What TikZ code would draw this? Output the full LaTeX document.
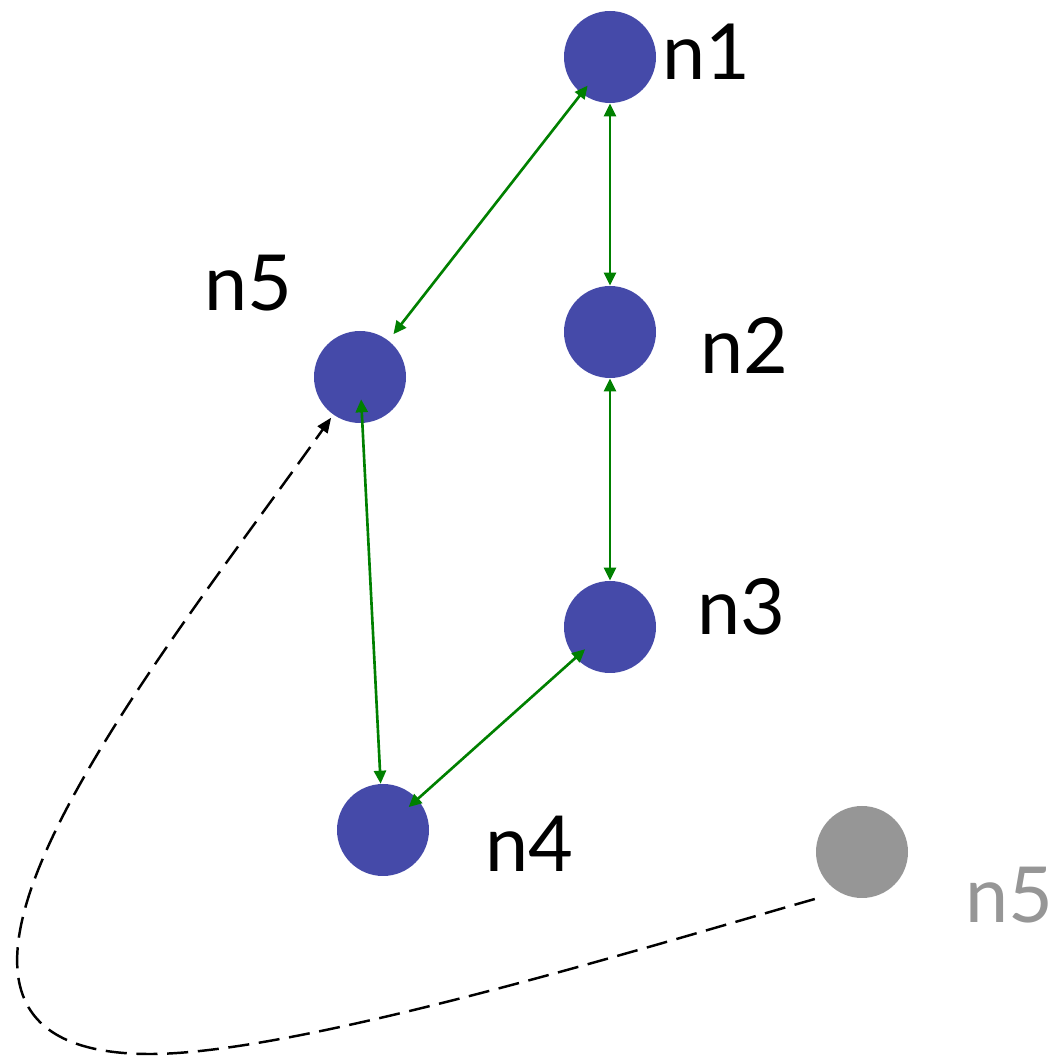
\documentclass[tikz,border=0pt]{standalone}
\usepackage{fontspec}
\setmainfont{Lato}
\usetikzlibrary{arrows.meta}
\definecolor{nodeblue}{RGB}{69,74,169}
\definecolor{ghostgray}{RGB}{150,150,150}
\definecolor{linkgreen}{RGB}{0,128,0}

\begin{document}
\begin{tikzpicture}[
  site/.style={circle,fill=nodeblue,minimum size=1.84cm,inner sep=0pt},
  lbl/.style={anchor=west,inner sep=0pt,font=\fontsize{44}{50}\selectfont},
  link/.style={linkgreen,line width=1.5pt,>={Triangle[length=0.26cm,width=0.24cm]},<->},
  rejoin/.style={black,line width=1.4pt,dash pattern=on 12pt off 5.5pt,
    -{Triangle[length=0.3cm,width=0.24cm]}}
]
\useasboundingbox (0,0) rectangle (21.1,21.12);

% the ring
\node[site] (n1) at (12.2,19.98) {};
\node[site] (n2) at (12.2,14.48) {};
\node[site] (n3) at (12.2,8.58) {};
\node[site] (n4) at (7.66,4.52) {};
\node[site] (n5) at (7.2,13.58) {};
\node[site,fill=ghostgray] (g5) at (17.24,4.08) {};

\node[lbl] (l1) at (13.24,20.08) {n1};
\node[lbl] (l2) at (14.0,14.22) {n2};
\node[lbl] (l3) at (13.94,8.98) {n3};
\node[lbl] (l4) at (9.7,4.24) {n4};
\node[lbl] (l5) at (4.08,15.46) {n5};
\node[lbl,text=ghostgray] (lg) at (19.3,3.22) {n5};

% links
\draw[link,shorten <=-0.2cm,shorten >=0.16cm] (n1) -- (n5);
\draw[link] (n1) -- (n2);
\draw[link] (n2) -- (n3);
\draw[link,shorten <=-0.48cm] (n5) -- (n4);
\draw[link,shorten <=-0.26cm,shorten >=-0.24cm] (n3) -- (n4);

% n5 comes back
\draw[rejoin,shorten <=0.5cm,shorten >=2pt] (g5.240)
  .. controls (13,2.2) and (6,0.04) .. (3,0.04)
  .. controls (-3.3,0.04) and (3.15,7.87) .. (n5);
\end{tikzpicture}
\end{document}
